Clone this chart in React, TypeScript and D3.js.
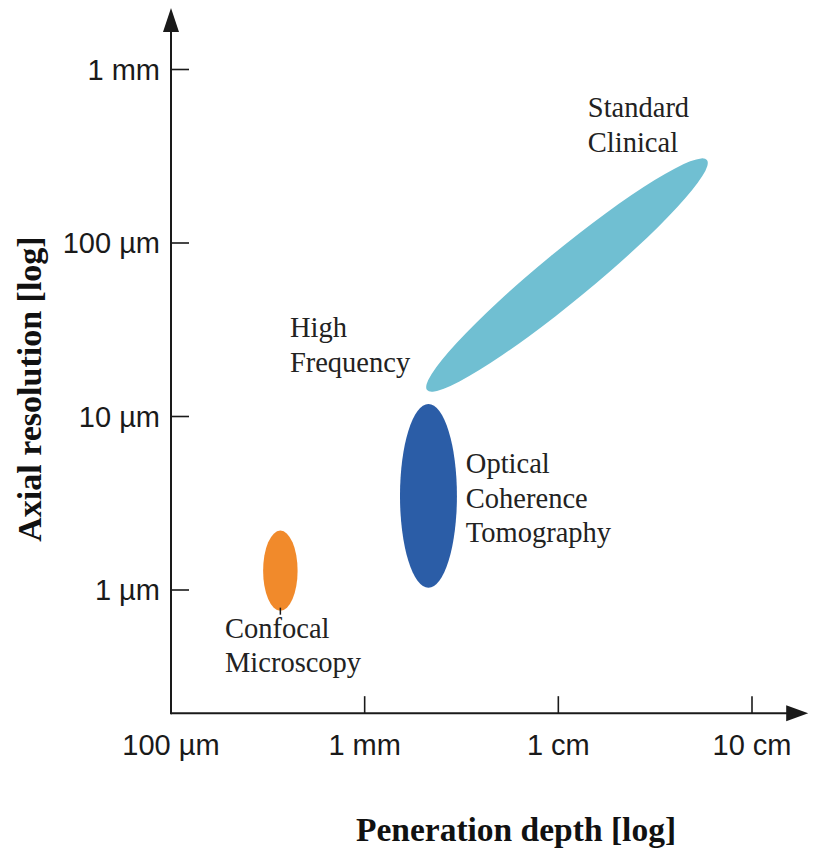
import React from "react";
import * as d3 from "d3";

// Axis ticks (values in micrometres)
const depthTicks = [100, 1000, 10000, 100000];
const depthTickLabels = ["100 µm", "1 mm", "1 cm", "10 cm"];
const resTicks = [1, 10, 100, 1000];
const resTickLabels = ["1 µm", "10 µm", "100 µm", "1 mm"];

// Extent of the drawn axes (µm)
const depthAxisExtent = [100, 195000];
const resAxisExtent = [0.195, 2260];

// Imaging modalities: ellipse drawn between two tips (depth µm, resolution µm),
// with a half-width given in decades of depth
const modalityNames = ["Confocal Microscopy", "Optical Coherence Tomography", "Standard Clinical"];
const tipLowDepth = [367, 2135, 2100];
const tipLowRes = [0.76, 1.03, 14.2];
const tipHighDepth = [367, 2135, 58500];
const tipHighRes = [2.2, 11.8, 301];
const halfWidthDecades = [0.089, 0.147, 0.129];
const modalityColors = ["#f18a2b", "#2b5da7", "#70bfd2"];

// Text annotations: lines, anchor (depth µm, resolution µm) for the first baseline
const annotationLines = [
  ["Standard", "Clinical"],
  ["High", "Frequency"],
  ["Optical", "Coherence", "Tomography"],
  ["Confocal", "Microscopy"],
];
const annotationDepth = [14200, 411, 3330, 190];
const annotationRes = [532, 28.7, 4.72, 0.53];

const W = 820;
const H = 851;

export default function App() {
  const x = d3.scaleLog().domain([100, 100000]).range([171, 752]);
  const y = d3.scaleLog().domain([1, 1000]).range([590, 69.5]);
  const pxPerDecadeX = x(1000) - x(100);

  const x0 = x(depthAxisExtent[0]);
  const x1 = x(depthAxisExtent[1]);
  const yBottom = y(resAxisExtent[0]);
  const yTop = y(resAxisExtent[1]);
  const ink = "#1a1a1a";
  const sans = "'Liberation Sans', Arial, Helvetica, sans-serif";
  const serif = "'Liberation Serif', 'Times New Roman', Times, serif";

  const ellipses = modalityNames.map((name, i) => {
    const ax = x(tipLowDepth[i]);
    const ay = y(tipLowRes[i]);
    const bx = x(tipHighDepth[i]);
    const by = y(tipHighRes[i]);
    const cx = (ax + bx) / 2;
    const cy = (ay + by) / 2;
    const rx = Math.hypot(bx - ax, by - ay) / 2;
    const ry = halfWidthDecades[i] * pxPerDecadeX;
    const angle = (Math.atan2(by - ay, bx - ax) * 180) / Math.PI;
    return { name, cx, cy, rx, ry, angle, color: modalityColors[i], ax, ay };
  });

  return (
    <svg
      width={W}
      height={H}
      style={{ position: "absolute", left: 0, top: 0, background: "#fff" }}
    >
      {/* modality regions */}
      {ellipses.map((e) => (
        <ellipse
          key={e.name}
          cx={e.cx}
          cy={e.cy}
          rx={e.rx}
          ry={e.ry}
          fill={e.color}
          transform={`rotate(${e.angle} ${e.cx} ${e.cy})`}
        />
      ))}
      {/* small leader under the confocal region */}
      <line
        x1={ellipses[0].ax}
        x2={ellipses[0].ax}
        y1={ellipses[0].ay - 3}
        y2={ellipses[0].ay + 4}
        stroke={ink}
        strokeWidth={1.5}
      />

      {/* axes */}
      <line x1={x0} x2={x1 - 16} y1={yBottom} y2={yBottom} stroke={ink} strokeWidth={2} />
      <polygon
        points={`${x1},${yBottom} ${x1 - 22},${yBottom - 8} ${x1 - 22},${yBottom + 8}`}
        fill={ink}
      />
      <line x1={x0} x2={x0} y1={yBottom + 1} y2={yTop + 16} stroke={ink} strokeWidth={2} />
      <polygon
        points={`${x0},${yTop} ${x0 - 8},${yTop + 24} ${x0 + 8},${yTop + 24}`}
        fill={ink}
      />

      {/* x ticks */}
      {depthTicks.map((t, i) => (
        <g key={`xt${t}`}>
          {i > 0 && (
            <line x1={x(t)} x2={x(t)} y1={yBottom} y2={yBottom - 17} stroke={ink} strokeWidth={1.6} />
          )}
          <text
            x={x(t)}
            y={755}
            textAnchor="middle"
            fontFamily={sans}
            fontSize={29}
            fill={ink}
          >
            {depthTickLabels[i]}
          </text>
        </g>
      ))}

      {/* y ticks */}
      {resTicks.map((t, i) => (
        <g key={`yt${t}`}>
          <line x1={x0} x2={x0 + 18} y1={y(t)} y2={y(t)} stroke={ink} strokeWidth={1.6} />
          <text
            x={160}
            y={y(t)}
            dy="0.36em"
            textAnchor="end"
            fontFamily={sans}
            fontSize={29}
            fill={ink}
          >
            {resTickLabels[i]}
          </text>
        </g>
      ))}

      {/* annotations */}
      {annotationLines.map((lines, i) => (
        <text
          key={`ann${i}`}
          x={x(annotationDepth[i])}
          y={y(annotationRes[i])}
          fontFamily={serif}
          fontSize={28.5}
          fill="#222"
        >
          {lines.map((l, j) => (
            <tspan key={l} x={x(annotationDepth[i])} dy={j === 0 ? 0 : 34.5}>
              {l}
            </tspan>
          ))}
        </text>
      ))}

      {/* axis titles */}
      <text
        x={516}
        y={841}
        textAnchor="middle"
        fontFamily={serif}
        fontWeight="bold"
        fontSize={33.5}
        fill="#111"
      >
        Peneration depth [log]
      </text>
      <text
        transform={`translate(41, 389) rotate(-90)`}
        textAnchor="middle"
        fontFamily={serif}
        fontWeight="bold"
        fontSize={34}
        fill="#111"
      >
        Axial resolution [log]
      </text>
    </svg>
  );
}
